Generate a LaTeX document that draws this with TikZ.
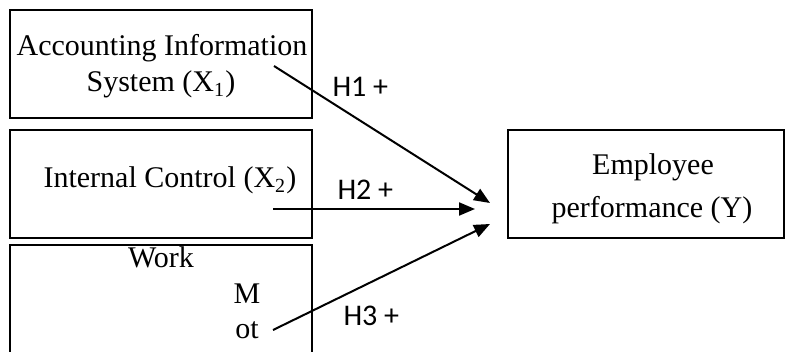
\documentclass[tikz,border=0pt]{standalone}
\usepackage{fontspec}
\setmainfont{Liberation Serif}
\newfontfamily\hfont{Carlito}
\usetikzlibrary{arrows.meta}
\begin{document}
\begin{tikzpicture}[x=0.4pt,y=-0.4pt,
  box/.style={draw=black,line width=0.6pt},
  txt/.style={inner sep=0pt,anchor=base,font=\fontsize{12}{14}\selectfont},
  hyp/.style={inner sep=0pt,anchor=base west,font=\hfont\fontsize{12}{14}\selectfont},
  link/.style={line width=0.8pt,-{Triangle[length=6.4pt,width=5.2pt]}}]
\useasboundingbox (0,0) rectangle (785,352);
\clip (0,0) rectangle (785,352);
% independent variables
\draw[box] (10,10) rectangle (312,118);
\draw[box] (10,130) rectangle (312,238);
\draw[box] (10,245) rectangle (312,370);
% dependent variable
\draw[box] (508,130) rectangle (784,238);
% box texts
\node[txt] (t1a) at (162,56) {Accounting Information};
\node[txt] (t1b) at (161,92) {System (X\textsubscript{1})};
\node[txt] (t2) at (170,188) {Internal Control (X\textsubscript{2})};
\node[txt] (t3a) at (161,268) {Work};
\node[txt] (t3b) at (247,303) {M};
\node[txt] (t3c) at (247,338) {ot};
\node[txt] (ya) at (653,175) {Employee};
\node[txt] (yb) at (652,217) {performance (Y)};
% hypothesis paths
\coordinate (s1) at (274,66);
\coordinate (e1) at (490,203);
\coordinate (s2) at (273,209);
\coordinate (e2) at (475,209);
\coordinate (s3) at (273,330);
\coordinate (e3) at (490,224);
\draw[link] (s1) -- (e1);
\draw[link] (s2) -- (e2);
\draw[link] (s3) -- (e3);
\node[hyp] (h1) at (332,97) {H1 +};
\node[hyp] (h2) at (337,200) {H2 +};
\node[hyp] (h3) at (343,325) {H3 +};
\end{tikzpicture}
\end{document}
